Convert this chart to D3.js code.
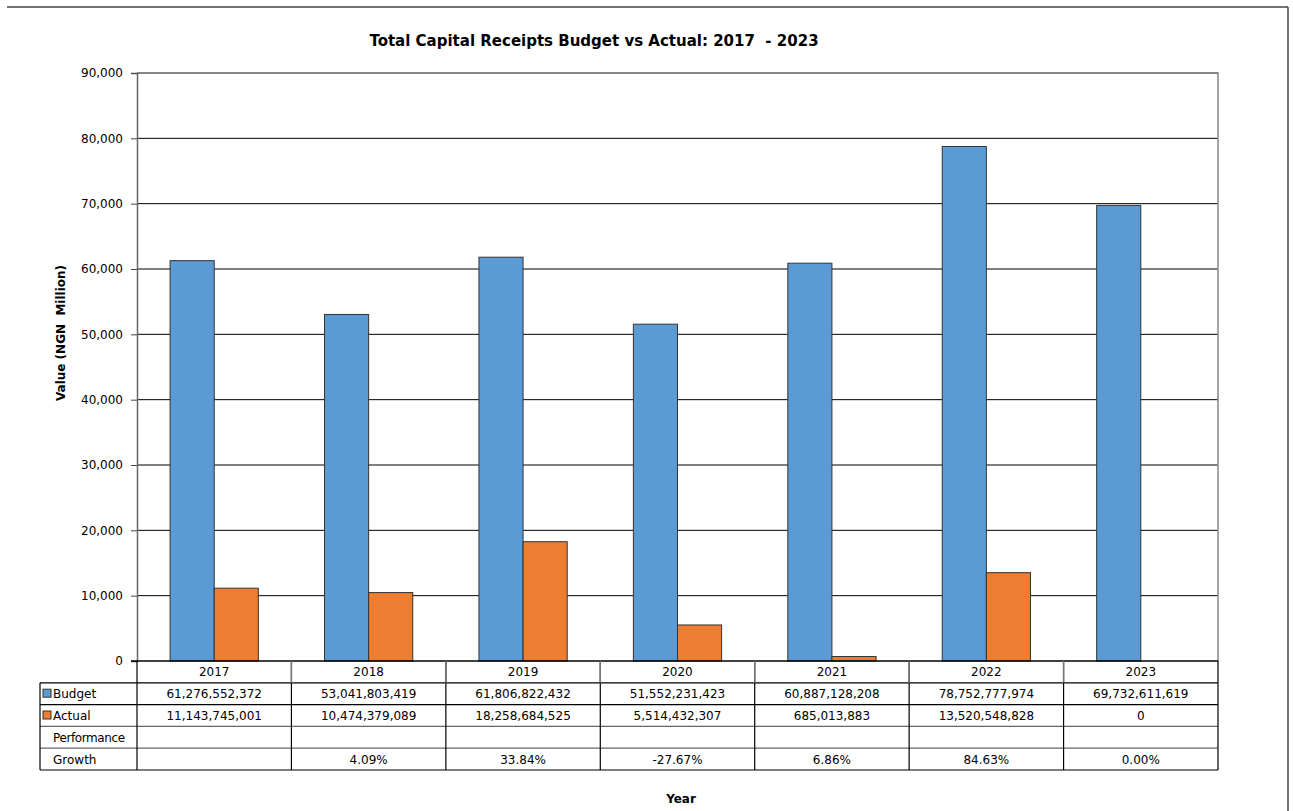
<!DOCTYPE html>
<html>
<head>
<meta charset="utf-8">
<script src="https://cdn.jsdelivr.net/npm/d3@7"></script>
<style>
  body { margin: 0; background: #fff; }
  svg { font-family: Tahoma, "DejaVu Sans", sans-serif; }
</style>
</head>
<body>
<div id="chart"></div>
<script>
const years = ["2017", "2018", "2019", "2020", "2021", "2022", "2023"];
const budget = [61276552372, 53041803419, 61806822432, 51552231423, 60887128208, 78752777974, 69732611619];
const actual = [11143745001, 10474379089, 18258684525, 5514432307, 685013883, 13520548828, 0];
const performance = ["", "", "", "", "", "", ""];
const growth = ["", "4.09%", "33.84%", "-27.67%", "6.86%", "84.63%", "0.00%"];
const yTicks = [0, 10000, 20000, 30000, 40000, 50000, 60000, 70000, 80000, 90000];

const W = 1293, H = 811;
const plot = {left: 137, right: 1218, top: 73, bottom: 661};
const rowH = 21.8;
const tableLeft = 40;
const blue = "#5b9bd5", orange = "#ed7d31";

const svg = d3.select("#chart").append("svg")
    .attr("width", W)
    .attr("height", H);

// outer chart frame (top and right edges only visible)
svg.append("line").attr("x1", 7).attr("x2", 1288).attr("y1", 7).attr("y2", 7)
    .style("stroke", "#444").style("stroke-width", 1.5);
svg.append("line").attr("x1", 1288).attr("x2", 1288).attr("y1", 7).attr("y2", H)
    .style("stroke", "#444").style("stroke-width", 1.5);

const x = d3.scaleBand().domain(years).range([plot.left, plot.right]);
const y = d3.scaleLinear().domain([0, 90000]).range([plot.bottom, plot.top]);
const inner = d3.scaleBand().domain(["budget", "actual"])
    .range([0, x.bandwidth()]).paddingInner(0).paddingOuter(0.75);

// gridlines
svg.append("g").selectAll("line").data(yTicks.slice(1)).join("line")
    .attr("x1", plot.left).attr("x2", plot.right)
    .attr("y1", d => y(d)).attr("y2", d => y(d))
    .style("stroke", "#000").style("stroke-width", 1);

// plot border top/right (grey)
svg.append("path")
    .attr("d", `M${plot.left},${plot.top}H${plot.right}V${plot.bottom}`)
    .style("fill", "none").style("stroke", "#888").style("stroke-width", 1.5);

// y axis
const yAxis = svg.append("g")
    .attr("transform", `translate(${plot.left},0)`)
    .call(d3.axisLeft(y).tickValues(yTicks).tickSize(6).tickPadding(8)
        .tickFormat(d3.format(",")));
yAxis.select(".domain").style("stroke", "#666").style("stroke-width", 1.5);
yAxis.selectAll(".tick line").style("stroke", "#444");
yAxis.selectAll("text").style("font-size", "12px").style("fill", "#000")
    .style("font-family", "'DejaVu Sans', sans-serif");

// bars
const groups = svg.append("g").selectAll("g").data(years).join("g")
    .attr("transform", d => `translate(${x(d)},0)`);
groups.append("rect")
    .attr("x", inner("budget"))
    .attr("width", inner.bandwidth())
    .attr("y", (d, i) => y(budget[i] / 1e6))
    .attr("height", (d, i) => y(0) - y(budget[i] / 1e6))
    .style("fill", blue).style("stroke", "#333").style("stroke-width", 1);
groups.append("rect")
    .attr("x", inner("actual"))
    .attr("width", inner.bandwidth())
    .attr("y", (d, i) => y(actual[i] / 1e6))
    .attr("height", (d, i) => y(0) - y(actual[i] / 1e6))
    .style("fill", orange).style("stroke", "#333").style("stroke-width", 1)
    .style("display", (d, i) => actual[i] === 0 ? "none" : null);

// data table
const fmt = d3.format(",");
const rows = [
  {label: "Budget", key: blue, values: budget.map(fmt)},
  {label: "Actual", key: orange, values: actual.map(fmt)},
  {label: "Performance", key: null, values: performance},
  {label: "Growth", key: null, values: growth}
];
const table = svg.append("g");
const tableBottom = plot.bottom + rowH * 5;

// header row text
table.selectAll("text.year").data(years).join("text")
    .attr("class", "year")
    .attr("x", d => x(d) + x.bandwidth() / 2)
    .attr("y", plot.bottom + rowH / 2 + 4.5)
    .attr("text-anchor", "middle")
    .style("font-size", "12px")
    .text(d => d);

// horizontal lines
const hLines = d3.range(1, 6).map(i => plot.bottom + rowH * i);
table.selectAll("line.h").data(hLines).join("line")
    .attr("x1", tableLeft)
    .attr("x2", plot.right)
    .attr("y1", d => d).attr("y2", d => d)
    .style("stroke", (d, i) => (i === 2 || i === 3) ? "#666" : "#000")
    .style("stroke-width", 1.2);
// axis baseline
table.append("line")
    .attr("x1", plot.left - 6).attr("x2", plot.right)
    .attr("y1", plot.bottom).attr("y2", plot.bottom)
    .style("stroke", "#000").style("stroke-width", 1.5);

// vertical lines
const vLines = years.map(d => x(d)).concat([plot.right]);
table.selectAll("line.v").data(vLines).join("line")
    .attr("x1", d => d).attr("x2", d => d)
    .attr("y1", plot.bottom).attr("y2", tableBottom)
    .style("stroke", "#000").style("stroke-width", 1.2);
table.selectAll("line.vh").data(vLines.slice(1, -1)).join("line")
    .attr("x1", d => d).attr("x2", d => d)
    .attr("y1", plot.bottom).attr("y2", plot.bottom + rowH)
    .style("stroke", "#777").style("stroke-width", 1.5);
table.append("line")
    .attr("x1", tableLeft).attr("x2", tableLeft)
    .attr("y1", plot.bottom + rowH).attr("y2", tableBottom)
    .style("stroke", "#000").style("stroke-width", 1.2);

// rows
rows.forEach((r, ri) => {
  const cy = plot.bottom + rowH * (ri + 1) + rowH / 2;
  if (r.key) {
    table.append("rect")
        .attr("x", tableLeft + 3).attr("y", cy - 4.5)
        .attr("width", 8).attr("height", 8)
        .style("fill", r.key).style("stroke", "#333").style("stroke-width", 1);
  }
  table.append("text")
      .attr("x", tableLeft + 13)
      .attr("y", cy + 4.5)
      .style("font-size", "12px")
      .style("letter-spacing", r.label === "Performance" ? "-0.4px" : null)
      .text(r.label);
  table.selectAll(null).data(r.values).join("text")
      .attr("x", (d, i) => x(years[i]) + x.bandwidth() / 2)
      .attr("y", cy + 4.5)
      .attr("text-anchor", "middle")
      .style("font-size", "12px")
      .text(d => d);
});

// title and axis labels
svg.append("text")
    .attr("x", 594).attr("y", 46)
    .attr("text-anchor", "middle")
    .style("font-size", "15px").style("font-weight", "bold")
    .style("white-space", "pre")
    .text("Total Capital Receipts Budget vs Actual: 2017  - 2023");

svg.append("text")
    .attr("transform", "translate(65,333) rotate(-90)")
    .attr("text-anchor", "middle")
    .style("font-size", "12px").style("font-weight", "bold")
    .style("white-space", "pre")
    .text("Value (NGN  Million)");

svg.append("text")
    .attr("x", 681).attr("y", 803)
    .attr("text-anchor", "middle")
    .style("font-size", "12px").style("font-weight", "bold")
    .text("Year");
</script>
</body>
</html>
